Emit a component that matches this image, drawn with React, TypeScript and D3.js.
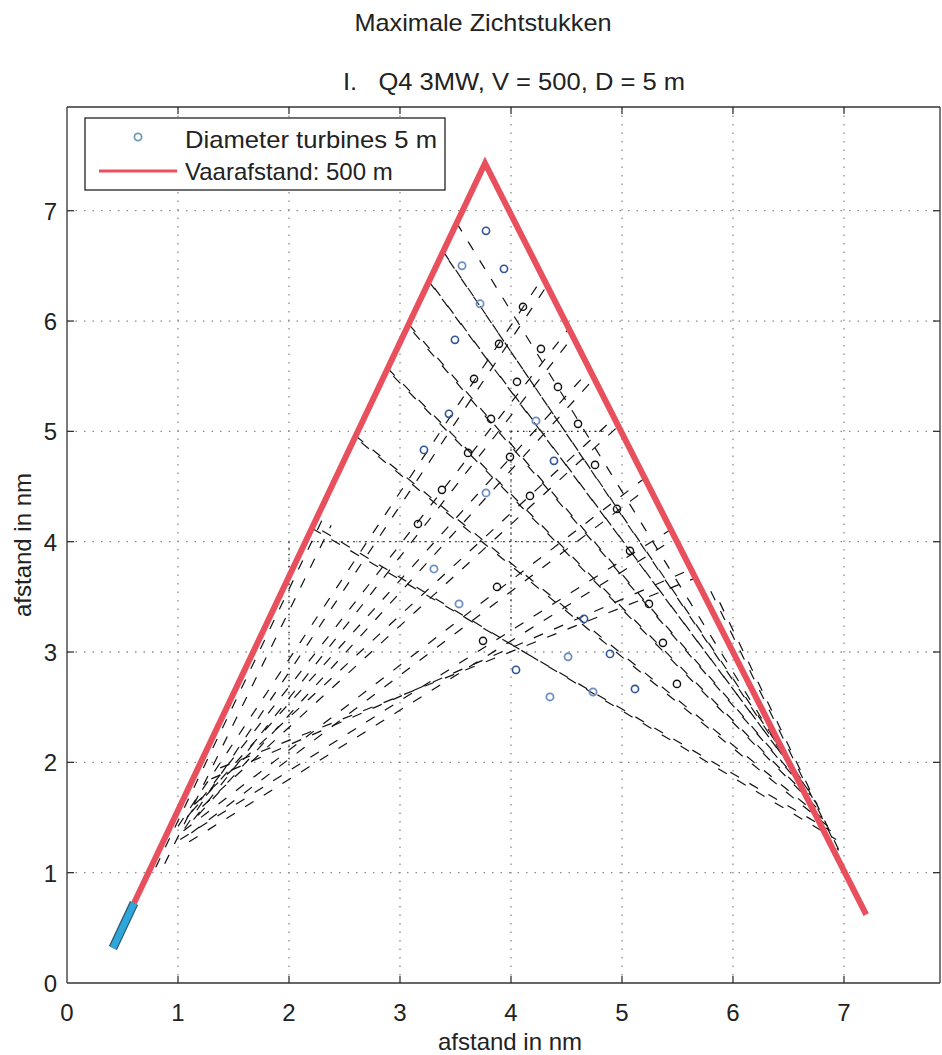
import React from 'react';
import * as d3 from 'd3';

const xTicks = [0, 1, 2, 3, 4, 5, 6, 7];
const yTicks = [0, 1, 2, 3, 4, 5, 6, 7];

// turbines (data units: nm)
const blueTurbines: [number, number][] = [
  [3.775, 6.818], [3.937, 6.473], [3.495, 5.83],
  [3.441, 5.159], [3.216, 4.832], [4.387, 4.733],
  [4.658, 3.3], [4.892, 2.983], [4.045, 2.838], [5.117, 2.665],
];
const lightBlueTurbines: [number, number][] = [
  [3.559, 6.501], [3.721, 6.156], [4.225, 5.095], [3.775, 4.442],
  [3.306, 3.753], [3.532, 3.436], [4.514, 2.956], [4.351, 2.593], [4.739, 2.638],
];
const blackTurbines: [number, number][] = [
  [4.108, 6.129], [3.892, 5.793], [4.27, 5.748], [3.667, 5.476], [4.054, 5.449],
  [4.423, 5.403], [3.82, 5.113], [4.604, 5.068], [3.613, 4.805], [3.991, 4.769],
  [4.757, 4.696], [3.378, 4.47], [4.171, 4.415], [4.955, 4.297], [3.162, 4.161],
  [5.072, 3.917], [3.874, 3.59], [5.243, 3.436], [3.748, 3.101], [5.369, 3.083],
  [5.495, 2.711],
];

// sailing route (500 m) and ship
const sailPath: [number, number][] = [[0.604, 0.725], [3.766, 7.43], [7.2, 0.62]];
const shipLine: [number, number][] = [[0.414, 0.317], [0.604, 0.725]];

// sight lines [x1, y1, x2, y2]
const sightLines: [number, number, number, number][] = [
  // from lower-left towards right leg
  [1.0, 1.42, 4.29, 6.4], [1.06, 1.4, 4.33, 6.33],
  [1.08, 1.5, 4.52, 5.93], [1.14, 1.48, 4.56, 5.86],
  [1.12, 1.55, 4.71, 5.56], [1.18, 1.52, 4.75, 5.48],
  [1.15, 1.62, 4.93, 5.12], [1.22, 1.6, 4.97, 5.05],
  [1.05, 1.38, 5.21, 4.58], [1.12, 1.36, 5.25, 4.5],
  [1.02, 1.3, 5.44, 4.11], [1.1, 1.28, 5.48, 4.03],
  [1.3, 1.85, 5.62, 3.75], [1.38, 1.95, 5.66, 3.67],
  // from upper-left towards lower part of right leg
  [3.39, 6.63, 6.6, 1.85], [3.44, 6.55, 6.66, 1.78],
  [3.51, 6.89, 6.55, 1.92],
  [3.26, 6.36, 6.64, 1.8], [3.31, 6.3, 6.7, 1.72],
  [3.08, 5.97, 6.7, 1.7], [3.12, 5.9, 6.76, 1.62],
  [2.89, 5.57, 6.76, 1.6], [2.94, 5.5, 6.82, 1.52],
  [2.6, 4.96, 6.82, 1.48], [2.65, 4.9, 6.88, 1.4],
  [2.21, 4.12, 6.88, 1.38], [2.3, 4.1, 6.93, 1.3],
  // close along the legs
  [0.8, 1.05, 2.3, 4.2], [0.88, 1.08, 2.38, 4.15],
  [5.8, 3.55, 6.95, 1.2], [5.88, 3.45, 6.98, 1.15],
];

const dottedLines: [number, number, number, number][] = [
  [2.2, 4.0, 4.6, 4.0], [2.0, 4.0, 2.0, 1.95],
  [4.0, 5.0, 4.85, 5.0], [4.0, 5.0, 4.0, 3.15],
];

const W = 942;
const H = 1055;
const left = 67, right = 940, top = 107, bottom = 983;

export default function App() {
  const x = d3.scaleLinear().domain([0, 7.865]).range([left, right]);
  const y = d3.scaleLinear().domain([0, 7.94]).range([bottom, top]);
  const line = d3.line<[number, number]>().x(d => x(d[0])).y(d => y(d[1]));
  const font = 'Arial, "Liberation Sans", Helvetica, sans-serif';
  const fs = 24;

  return (
    <svg width={W} height={H} style={{ position: 'absolute', left: 0, top: 0, background: '#fff' }}
      fontFamily={font}>
      <rect x={0} y={0} width={W} height={H} fill="#fff" />
      <text x={483} y={31} fontSize={fs} textAnchor="middle" fill="#222"
        textLength={257} lengthAdjust="spacingAndGlyphs">Maximale Zichtstukken</text>
      <text x={343} y={90} fontSize={fs} fill="#222" xmlSpace="preserve"
        textLength={342} lengthAdjust="spacingAndGlyphs">{'I.   Q4 3MW, V = 500, D = 5 m'}</text>

      {/* grid */}
      <g stroke="#8c8c8c" strokeWidth={1.3} strokeDasharray="1.5,7">
        {xTicks.slice(1).map(t => <line key={'gx' + t} x1={x(t)} x2={x(t)} y1={top} y2={bottom} />)}
        {yTicks.slice(1).map(t => <line key={'gy' + t} x1={left} x2={right} y1={y(t)} y2={y(t)} />)}
      </g>
      <g stroke="#222" strokeWidth={1.3} strokeDasharray="1.5,4.5">
        {dottedLines.map((d, i) => <line key={'d' + i} x1={x(d[0])} y1={y(d[1])} x2={x(d[2])} y2={y(d[3])} />)}
      </g>

      {/* sight lines */}
      <g stroke="#111" strokeWidth={1.2} strokeDasharray="10,12" fill="none">
        {sightLines.map((d, i) => <line key={'s' + i} x1={x(d[0])} y1={y(d[1])} x2={x(d[2])} y2={y(d[3])} />)}
      </g>

      {/* turbines */}
      <g fill="none" stroke="#2f5496" strokeWidth={1.6}>
        {blueTurbines.map((d, i) => <circle key={'b' + i} cx={x(d[0])} cy={y(d[1])} r={3.6} />)}
      </g>
      <g fill="none" stroke="#6d8fc2" strokeWidth={1.8}>
        {lightBlueTurbines.map((d, i) => <circle key={'lb' + i} cx={x(d[0])} cy={y(d[1])} r={3.6} />)}
      </g>
      <g fill="none" stroke="#111" strokeWidth={1.4}>
        {blackTurbines.map((d, i) => <circle key={'k' + i} cx={x(d[0])} cy={y(d[1])} r={3.6} />)}
      </g>

      {/* sailing path */}
      <path d={line(sailPath) || ''} fill="none" stroke="#e9505e" strokeWidth={6} strokeLinejoin="miter" />
      <path d={line(shipLine) || ''} fill="none" stroke="#2f5d6e" strokeWidth={9} />
      <path d={line(shipLine) || ''} fill="none" stroke="#2fa6dc" strokeWidth={6.5} />

      {/* axes box */}
      <g stroke="#333" strokeWidth={1.3} fill="none">
        <line x1={left} x2={right} y1={top} y2={top} />
        <line x1={left} x2={right} y1={bottom} y2={bottom} />
        <line x1={left} x2={left} y1={top} y2={bottom} />
        <line x1={right} x2={right} y1={top} y2={bottom} />
        {xTicks.slice(1).map(t => (
          <g key={'tx' + t}>
            <line x1={x(t)} x2={x(t)} y1={top} y2={top + 7} />
            <line x1={x(t)} x2={x(t)} y1={bottom} y2={bottom - 7} />
          </g>
        ))}
        {yTicks.slice(1).map(t => (
          <g key={'ty' + t}>
            <line x1={left} x2={left + 7} y1={y(t)} y2={y(t)} />
            <line x1={right} x2={right - 7} y1={y(t)} y2={y(t)} />
          </g>
        ))}
      </g>

      {/* tick labels */}
      <g fontSize={fs} fill="#222">
        {xTicks.map(t => <text key={'lx' + t} x={x(t)} y={1021} textAnchor="middle">{t}</text>)}
        {yTicks.map(t => <text key={'ly' + t} x={57} y={y(t) + 9} textAnchor="end">{t}</text>)}
      </g>
      <text x={510} y={1050} fontSize={fs} textAnchor="middle" fill="#222">afstand in nm</text>
      <text transform={`translate(31,545) rotate(-90)`} fontSize={fs} textAnchor="middle" fill="#222">afstand in nm</text>

      {/* legend */}
      <rect x={85} y={118} width={360} height={72} fill="#fff" stroke="#222" strokeWidth={1.3} />
      <circle cx={138} cy={137} r={3.6} fill="none" stroke="#6f9bb5" strokeWidth={1.8} />
      <text x={185} y={148} fontSize={fs} fill="#222" textLength={252} lengthAdjust="spacingAndGlyphs">Diameter turbines 5 m</text>
      <line x1={99} x2={177} y1={171} y2={171} stroke="#e9505e" strokeWidth={3} />
      <text x={185} y={180} fontSize={fs} fill="#222">Vaarafstand: 500 m</text>
    </svg>
  );
}
